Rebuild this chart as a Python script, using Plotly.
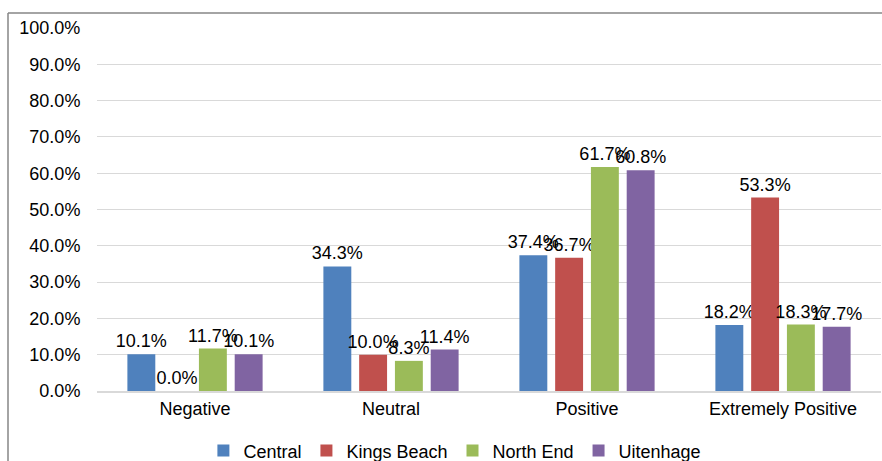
import plotly.graph_objects as go

categories = ["Negative", "Neutral", "Positive", "Extremely Positive"]
series_names = ["Central", "Kings Beach", "North End", "Uitenhage"]
central = [10.1, 34.3, 37.4, 18.2]
kings_beach = [0.0, 10.0, 36.7, 53.3]
north_end = [11.7, 8.3, 61.7, 18.3]
uitenhage = [10.1, 11.4, 60.8, 17.7]
y_ticks = [0, 10, 20, 30, 40, 50, 60, 70, 80, 90, 100]
y_tick_labels = ["0.0%", "10.0%", "20.0%", "30.0%", "40.0%", "50.0%",
                 "60.0%", "70.0%", "80.0%", "90.0%", "100.0%"]

colors = ["#4F81BD", "#C0504D", "#9BBB59", "#8064A2"]
FONT = "Liberation Sans, Arial, sans-serif"
FS = 18

fig = go.Figure()
for name, vals, col in zip(series_names, [central, kings_beach, north_end, uitenhage], colors):
    fig.add_trace(go.Bar(
        x=categories, y=vals, name=name,
        marker=dict(color=col, line=dict(width=0)),
        texttemplate="%{y:.1f}%", textposition="outside",
        constraintext="none", cliponaxis=False,
        textfont=dict(family=FONT, size=FS, color="#000000"),
    ))

fig.update_layout(
    width=882, height=461,
    margin=dict(l=97, r=1, t=28, b=70, autoexpand=False),
    paper_bgcolor="white", plot_bgcolor="white",
    barmode="group", bargap=0.27, bargroupgap=0.22,
    font=dict(family=FONT, size=FS, color="#000000"),
    showlegend=True,
    legend=dict(orientation="h", x=0.4565, xanchor="center", y=-0.165, yanchor="middle",
                font=dict(family=FONT, size=FS, color="#000000"),
                traceorder="normal", itemwidth=30),
    xaxis=dict(showgrid=False, showline=True, linecolor="#D9D9D9", linewidth=2,
               ticks="", automargin=False,
               tickfont=dict(family=FONT, size=FS, color="#000000")),
    yaxis=dict(range=[0, 100], tickvals=y_ticks, ticktext=y_tick_labels,
               showgrid=True, gridcolor="#D9D9D9", gridwidth=1, zeroline=False,
               showline=False, ticks="outside", ticklen=12, tickcolor="rgba(0,0,0,0)",
               automargin=False,
               tickfont=dict(family=FONT, size=FS, color="#000000")),
)

# chart-area border (top and left edges visible in the reference)
fig.add_shape(type="line", xref="paper", yref="paper",
              x0=(8 - 97) / 784, x1=1.05, y0=1 + 15 / 363, y1=1 + 15 / 363,
              line=dict(color="#868686", width=1.5))
fig.add_shape(type="line", xref="paper", yref="paper",
              x0=(8 - 97) / 784, x1=(8 - 97) / 784, y0=1 + 15 / 363, y1=-0.3,
              line=dict(color="#868686", width=1.5))

fig.write_html("out.html", config={"displayModeBar": False},
               post_script="document.body.style.margin='0';document.body.style.overflow='hidden';")
